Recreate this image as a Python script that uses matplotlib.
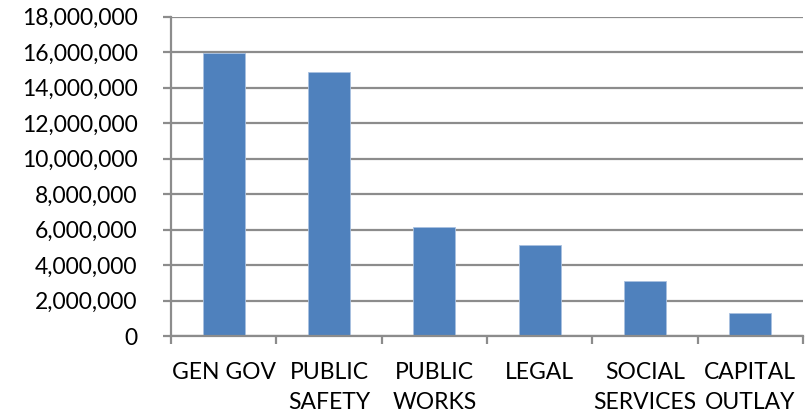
import matplotlib
matplotlib.use("Agg")
import matplotlib.pyplot as plt
from matplotlib.ticker import FuncFormatter, FixedLocator

categories = ["GEN GOV", "PUBLIC\nSAFETY", "PUBLIC\nWORKS", "LEGAL", "SOCIAL\nSERVICES", "CAPITAL\nOUTLAY"]
values = [15930000, 14890000, 6150000, 5110000, 3080000, 1320000]
y_ticks = list(range(0, 18000001, 2000000))

plt.rcParams['font.family'] = ['Lato', 'DejaVu Sans']

fig = plt.figure(figsize=(8.09, 4.15), dpi=100)
fig.patch.set_facecolor('white')
ax = fig.add_axes([171/809, 1-336/415, (803-171)/809, (336-16.7)/415])

x = list(range(len(categories)))
ax.bar(x, values, width=0.4, color='#4F81BD', edgecolor='#a9c1e0', linewidth=0.6, zorder=3)

ax.set_xlim(-0.5, len(categories) - 0.5)
ax.set_ylim(0, 18000000)
ax.set_yticks(y_ticks)
ax.yaxis.set_major_formatter(FuncFormatter(lambda v, p: f"{int(v):,}"))
ax.grid(axis='y', color='#8c8c8c', linewidth=1.6, zorder=1)

# category boundaries as major ticks, labels at centers as minor ticks
ax.xaxis.set_major_locator(FixedLocator([i - 0.5 for i in range(len(categories) + 1)]))
ax.xaxis.set_major_formatter(FuncFormatter(lambda v, p: ""))
ax.set_xticks(x, minor=True)
ax.set_xticklabels(categories, minor=True, fontsize=16.5, linespacing=1.5, color='black')
ax.tick_params(axis='x', which='minor', length=0, pad=19)
ax.tick_params(axis='x', which='major', length=6, width=1.6, color='#8c8c8c', direction='out')
ax.tick_params(axis='y', length=6, width=1.6, color='#8c8c8c', direction='out', pad=18,
               labelsize=16.5, labelcolor='black')

for s in ['top', 'right']:
    ax.spines[s].set_visible(False)
for s in ['left', 'bottom']:
    ax.spines[s].set_color('#8c8c8c')
    ax.spines[s].set_linewidth(1.6)
    ax.spines[s].set_zorder(4)

fig.savefig("out.png", dpi=100, facecolor='white')
